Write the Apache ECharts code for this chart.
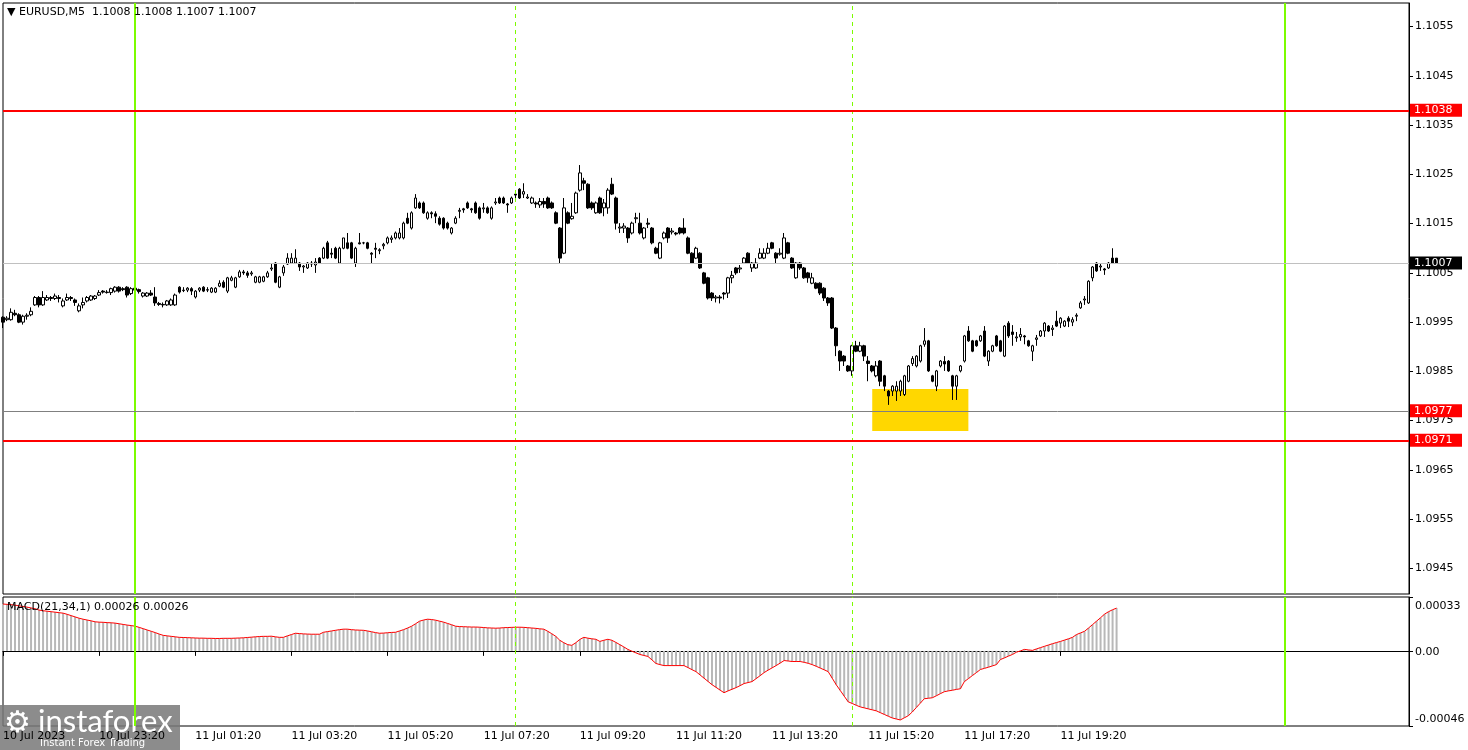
<!DOCTYPE html>
<html><head><meta charset="utf-8">
<script src="https://cdn.jsdelivr.net/npm/echarts@6/dist/echarts.min.js"></script>
<style>html,body{margin:0;padding:0;background:#fff}#c{width:1468px;height:750px}</style>
</head><body><div id="c"></div>
<script>
// ---------- DATA ----------
const headerText = 'EURUSD,M5  1.1008 1.1008 1.1007 1.1007';
const macdText = 'MACD(21,34,1) 0.00026 0.00026';
const firstBarTime = { day: 10, hour: 21, minute: 20 };   // first visible M5 bar
const totalSlots = 352;                                     // bars + empty right shift
const firstLabel = '10 Jul 2023';

const opens = [
1.09960,1.09955,1.09955,1.09968,1.09965,1.09950,1.09962,1.09965,1.09985,1.10000,
1.09985,1.09995,1.10000,1.09998,1.10000,1.09983,1.09995,1.10000,1.09995,1.09973,
1.09985,1.09993,1.09995,1.09998,1.10005,1.10013,1.10010,1.10010,1.10013,1.10021,
1.10018,1.10021,1.10008,1.10019,1.10016,1.10003,1.10003,1.10009,1.10001,1.09988,
1.09986,1.09985,1.09985,1.09985,1.10021,1.10015,1.10015,1.10018,1.10001,1.10015,
1.10021,1.10015,1.10011,1.10011,1.10023,1.10031,1.10013,1.10035,1.10021,1.10042,
1.10052,1.10050,1.10048,1.10031,1.10031,1.10033,1.10042,1.10058,1.10070,1.10021,
1.10050,1.10068,1.10070,1.10070,1.10070,1.10062,1.10060,1.10070,1.10066,1.10080,
1.10080,1.10111,1.10090,1.10100,1.10070,1.10100,1.10111,1.10111,1.10070,1.10111,
1.10111,1.10111,1.10090,1.10100,1.10095,1.10105,1.10111,1.10118,1.10121,1.10121,
1.10121,1.10161,1.10141,1.10182,1.10192,1.10192,1.10161,1.10172,1.10170,1.10161,
1.10161,1.10151,1.10131,1.10151,1.10175,1.10180,1.10192,1.10180,1.10192,1.10182,
1.10180,1.10182,1.10161,1.10192,1.10202,1.10202,1.10190,1.10192,1.10210,1.10220,
1.10210,1.10202,1.10192,1.10192,1.10188,1.10195,1.10202,1.10192,1.10172,1.10141,
1.10090,1.10172,1.10160,1.10172,1.10218,1.10237,1.10230,1.10192,1.10172,1.10202,
1.10182,1.10182,1.10230,1.10202,1.10141,1.10141,1.10141,1.10131,1.10160,1.10151,
1.10121,1.10151,1.10141,1.10100,1.10080,1.10121,1.10141,1.10133,1.10131,1.10141,
1.10141,1.10121,1.10090,1.10080,1.10090,1.10050,1.10040,1.10009,1.09999,1.10001,
1.10009,1.10009,1.10040,1.10060,1.10058,1.10070,1.10090,1.10060,1.10060,1.10080,
1.10080,1.10090,1.10111,1.10090,1.10088,1.10080,1.10111,1.10080,1.10040,1.10070,
1.10060,1.10050,1.10029,1.10029,1.10029,1.10019,1.09999,1.09999,1.09938,1.09891,
1.09881,1.09861,1.09851,1.09902,1.09891,1.09902,1.09871,1.09861,1.09841,1.09871,
1.09841,1.09810,1.09810,1.09810,1.09810,1.09803,1.09830,1.09866,1.09861,1.09871,
1.09905,1.09912,1.09841,1.09820,1.09861,1.09870,1.09871,1.09841,1.09820,1.09851,
1.09871,1.09932,1.09912,1.09912,1.09912,1.09932,1.09871,1.09891,1.09922,1.09912,
1.09881,1.09948,1.09930,1.09918,1.09920,1.09922,1.09912,1.09891,1.09915,1.09922,
1.09932,1.09942,1.09935,1.09952,1.09948,1.09942,1.09958,1.09950,1.09962,1.09979,
1.09995,1.09989,1.10040,1.10070,1.10062,1.10058,1.10060,1.10080,1.10080
];
const closes = [
1.09950,1.09958,1.09970,1.09965,1.09950,1.09962,1.09964,1.09972,1.10000,1.09985,
1.10000,1.10000,1.09998,1.10003,1.09998,1.09993,1.10000,1.09998,1.09990,1.09983,
1.09990,1.10000,1.10003,1.10003,1.10010,1.10011,1.10011,1.10018,1.10021,1.10013,
1.10016,1.10005,1.10018,1.10015,1.10012,1.10009,1.10009,1.10005,1.09989,1.09986,
1.09985,1.09993,1.09995,1.10005,1.10011,1.10014,1.10019,1.10013,1.10013,1.10019,
1.10013,1.10016,1.10019,1.10019,1.10029,1.10021,1.10040,1.10040,1.10040,1.10052,
1.10050,1.10045,1.10050,1.10042,1.10042,1.10042,1.10050,1.10060,1.10031,1.10042,
1.10062,1.10080,1.10080,1.10080,1.10062,1.10064,1.10070,1.10068,1.10072,1.10070,
1.10100,1.10080,1.10088,1.10080,1.10100,1.10121,1.10100,1.10080,1.10100,1.10109,
1.10111,1.10100,1.10088,1.10098,1.10097,1.10108,1.10121,1.10121,1.10131,1.10131,
1.10151,1.10151,1.10172,1.10202,1.10182,1.10172,1.10172,1.10170,1.10165,1.10149,
1.10141,1.10141,1.10141,1.10161,1.10177,1.10178,1.10182,1.10178,1.10172,1.10161,
1.10182,1.10172,1.10182,1.10194,1.10192,1.10192,1.10188,1.10202,1.10208,1.10202,
1.10215,1.10204,1.10202,1.10190,1.10195,1.10190,1.10182,1.10182,1.10151,1.10080,
1.10182,1.10151,1.10165,1.10212,1.10253,1.10232,1.10182,1.10182,1.10192,1.10172,
1.10192,1.10218,1.10210,1.10151,1.10143,1.10145,1.10121,1.10151,1.10162,1.10131,
1.10141,1.10149,1.10111,1.10090,1.10111,1.10131,1.10121,1.10135,1.10129,1.10131,
1.10131,1.10090,1.10070,1.10100,1.10060,1.10029,1.09999,1.09999,1.10001,1.09999,
1.10007,1.10040,1.10045,1.10050,1.10060,1.10080,1.10070,1.10070,1.10070,1.10090,
1.10090,1.10100,1.10100,1.10080,1.10090,1.10121,1.10090,1.10060,1.10070,1.10060,
1.10040,1.10040,1.10040,1.10019,1.10009,1.09999,1.09989,1.09938,1.09902,1.09871,
1.09871,1.09851,1.09902,1.09891,1.09902,1.09881,1.09866,1.09851,1.09861,1.09830,
1.09820,1.09800,1.09820,1.09820,1.09830,1.09841,1.09861,1.09876,1.09881,1.09902,
1.09912,1.09851,1.09830,1.09851,1.09871,1.09865,1.09851,1.09820,1.09841,1.09861,
1.09922,1.09912,1.09891,1.09902,1.09922,1.09881,1.09891,1.09902,1.09902,1.09891,
1.09942,1.09922,1.09925,1.09920,1.09925,1.09920,1.09902,1.09902,1.09918,1.09932,
1.09948,1.09932,1.09938,1.09942,1.09958,1.09952,1.09952,1.09955,1.09964,1.09989,
1.09997,1.10033,1.10062,1.10054,1.10064,1.10056,1.10070,1.10070,1.10070
];
const highs = [
1.09962,1.09962,1.09978,1.09975,1.09968,1.09965,1.09968,1.09980,1.10003,1.10003,
1.10013,1.10005,1.10003,1.10008,1.10005,1.09998,1.10008,1.10003,1.09998,1.09988,
1.10000,1.10003,1.10005,1.10005,1.10015,1.10015,1.10015,1.10020,1.10023,1.10023,
1.10021,1.10023,1.10021,1.10021,1.10018,1.10011,1.10011,1.10015,1.10021,1.09991,
1.09990,1.09995,1.09998,1.10008,1.10023,1.10021,1.10021,1.10021,1.10015,1.10021,
1.10023,1.10021,1.10021,1.10021,1.10035,1.10035,1.10042,1.10044,1.10042,1.10056,
1.10056,1.10054,1.10054,1.10044,1.10044,1.10044,1.10054,1.10070,1.10072,1.10044,
1.10066,1.10090,1.10090,1.10098,1.10072,1.10066,1.10072,1.10074,1.10080,1.10082,
1.10103,1.10115,1.10100,1.10103,1.10103,1.10121,1.10131,1.10113,1.10103,1.10131,
1.10113,1.10113,1.10092,1.10111,1.10100,1.10111,1.10124,1.10126,1.10134,1.10141,
1.10154,1.10172,1.10175,1.10210,1.10195,1.10195,1.10175,1.10175,1.10175,1.10165,
1.10163,1.10154,1.10143,1.10165,1.10182,1.10182,1.10195,1.10182,1.10195,1.10185,
1.10192,1.10185,1.10185,1.10202,1.10205,1.10205,1.10192,1.10205,1.10212,1.10222,
1.10232,1.10210,1.10205,1.10195,1.10202,1.10202,1.10205,1.10195,1.10175,1.10143,
1.10202,1.10175,1.10192,1.10215,1.10269,1.10243,1.10232,1.10195,1.10195,1.10205,
1.10200,1.10222,1.10243,1.10205,1.10151,1.10151,1.10143,1.10154,1.10172,1.10172,
1.10143,1.10161,1.10143,1.10103,1.10113,1.10134,1.10143,1.10141,1.10133,1.10143,
1.10161,1.10124,1.10092,1.10103,1.10092,1.10052,1.10042,1.10011,1.10005,1.10005,
1.10011,1.10042,1.10054,1.10062,1.10066,1.10082,1.10092,1.10072,1.10080,1.10100,
1.10100,1.10111,1.10113,1.10092,1.10100,1.10131,1.10113,1.10082,1.10072,1.10072,
1.10062,1.10052,1.10050,1.10031,1.10031,1.10021,1.10001,1.10001,1.09940,1.09893,
1.09883,1.09863,1.09904,1.09912,1.09910,1.09904,1.09881,1.09863,1.09871,1.09873,
1.09843,1.09812,1.09822,1.09830,1.09833,1.09843,1.09863,1.09881,1.09883,1.09904,
1.09938,1.09914,1.09843,1.09853,1.09873,1.09881,1.09873,1.09843,1.09843,1.09863,
1.09924,1.09942,1.09914,1.09914,1.09924,1.09942,1.09893,1.09904,1.09924,1.09914,
1.09944,1.09952,1.09944,1.09930,1.09938,1.09924,1.09914,1.09904,1.09924,1.09934,
1.09950,1.09944,1.09944,1.09973,1.09960,1.09954,1.09962,1.09960,1.09968,1.09993,
1.10003,1.10035,1.10064,1.10072,1.10070,1.10060,1.10072,1.10100,1.10080
];
const lows = [
1.09938,1.09952,1.09953,1.09962,1.09948,1.09945,1.09955,1.09962,1.09983,1.09980,
1.09983,1.09993,1.09993,1.09995,1.09990,1.09980,1.09993,1.09993,1.09983,1.09970,
1.09978,1.09990,1.09993,1.09995,1.10003,1.10008,1.10008,1.10005,1.10010,1.10010,
1.10013,1.10000,1.10005,1.10013,1.10008,1.10000,1.10001,1.10003,1.09983,1.09983,
1.09980,1.09983,1.09983,1.09983,1.10008,1.10011,1.10011,1.10005,1.09998,1.10011,
1.10011,1.10011,1.10009,1.10009,1.10021,1.10019,1.10009,1.10033,1.10019,1.10040,
1.10046,1.10040,1.10044,1.10029,1.10029,1.10031,1.10040,1.10054,1.10029,1.10019,
1.10044,1.10066,1.10068,1.10068,1.10054,1.10050,1.10058,1.10062,1.10050,1.10068,
1.10078,1.10078,1.10080,1.10078,1.10068,1.10098,1.10098,1.10078,1.10062,1.10108,
1.10108,1.10098,1.10070,1.10080,1.10088,1.10098,1.10108,1.10111,1.10118,1.10118,
1.10118,1.10149,1.10138,1.10180,1.10180,1.10170,1.10158,1.10161,1.10151,1.10146,
1.10138,1.10138,1.10128,1.10149,1.10161,1.10172,1.10180,1.10172,1.10170,1.10158,
1.10172,1.10170,1.10158,1.10188,1.10190,1.10190,1.10172,1.10190,1.10202,1.10200,
1.10202,1.10200,1.10190,1.10182,1.10182,1.10182,1.10180,1.10180,1.10149,1.10070,
1.10088,1.10149,1.10158,1.10170,1.10215,1.10218,1.10180,1.10178,1.10170,1.10170,
1.10165,1.10170,1.10208,1.10138,1.10131,1.10131,1.10111,1.10128,1.10151,1.10128,
1.10118,1.10141,1.10108,1.10088,1.10078,1.10118,1.10111,1.10128,1.10126,1.10128,
1.10128,1.10088,1.10068,1.10078,1.10058,1.10027,1.09996,1.09993,1.09990,1.09988,
1.09996,1.09999,1.10029,1.10046,1.10050,1.10068,1.10068,1.10052,1.10058,1.10078,
1.10078,1.10088,1.10098,1.10070,1.10085,1.10078,1.10088,1.10058,1.10038,1.10056,
1.10038,1.10030,1.10027,1.10017,1.10005,1.09993,1.09983,1.09936,1.09881,1.09851,
1.09861,1.09849,1.09841,1.09889,1.09889,1.09871,1.09830,1.09848,1.09838,1.09820,
1.09810,1.09782,1.09800,1.09790,1.09800,1.09800,1.09828,1.09861,1.09858,1.09868,
1.09900,1.09849,1.09828,1.09810,1.09858,1.09851,1.09849,1.09792,1.09792,1.09848,
1.09868,1.09910,1.09889,1.09900,1.09910,1.09879,1.09861,1.09889,1.09900,1.09889,
1.09879,1.09918,1.09902,1.09910,1.09912,1.09905,1.09900,1.09871,1.09902,1.09920,
1.09920,1.09930,1.09922,1.09940,1.09938,1.09940,1.09940,1.09942,1.09952,1.09977,
1.09985,1.09987,1.10033,1.10052,1.10054,1.10046,1.10058,1.10068,1.10070
];
// MACD(21,34,1) main line values per bar (histogram and signal coincide)
const macd = [
0.000287,0.000285,0.000283,0.000280,0.000276,0.000272,0.000268,0.000263,0.000258,0.000250,
0.000246,0.000243,0.000240,0.000237,0.000234,0.000231,0.000224,0.000216,0.000208,0.000200,
0.000194,0.000189,0.000184,0.000178,0.000176,0.000175,0.000173,0.000172,0.000170,0.000166,
0.000162,0.000158,0.000155,0.000151,0.000144,0.000136,0.000128,0.000120,0.000112,0.000103,
0.000095,0.000092,0.000089,0.000086,0.000083,0.000082,0.000081,0.000080,0.000079,0.000078,
0.000078,0.000077,0.000077,0.000076,0.000076,0.000077,0.000077,0.000077,0.000078,0.000079,
0.000080,0.000082,0.000084,0.000086,0.000088,0.000089,0.000089,0.000090,0.000086,0.000083,
0.000083,0.000092,0.000100,0.000108,0.000106,0.000104,0.000103,0.000102,0.000102,0.000102,
0.000114,0.000118,0.000122,0.000126,0.000130,0.000133,0.000133,0.000130,0.000128,0.000127,
0.000126,0.000122,0.000117,0.000112,0.000108,0.000109,0.000111,0.000113,0.000114,0.000122,
0.000130,0.000140,0.000151,0.000166,0.000182,0.000189,0.000194,0.000192,0.000188,0.000182,
0.000176,0.000168,0.000160,0.000151,0.000149,0.000148,0.000147,0.000146,0.000146,0.000145,
0.000143,0.000141,0.000140,0.000139,0.000140,0.000142,0.000143,0.000144,0.000145,0.000145,
0.000144,0.000142,0.000140,0.000138,0.000135,0.000133,0.000120,0.000105,0.000089,0.000065,
0.000050,0.000038,0.000034,0.000050,0.000070,0.000083,0.000078,0.000074,0.000071,0.000058,
0.000065,0.000071,0.000065,0.000052,0.000038,0.000024,0.000009,-0.000002,-0.000012,-0.000022,
-0.000028,-0.000034,-0.000055,-0.000077,-0.000084,-0.000090,-0.000090,-0.000090,-0.000090,-0.000090,
-0.000090,-0.000102,-0.000115,-0.000127,-0.000147,-0.000167,-0.000187,-0.000207,-0.000223,-0.000240,
-0.000256,-0.000245,-0.000235,-0.000225,-0.000213,-0.000200,-0.000194,-0.000188,-0.000170,-0.000152,
-0.000133,-0.000118,-0.000104,-0.000090,-0.000075,-0.000059,-0.000062,-0.000065,-0.000065,-0.000065,
-0.000070,-0.000076,-0.000084,-0.000094,-0.000105,-0.000116,-0.000127,-0.000167,-0.000207,-0.000242,
-0.000277,-0.000312,-0.000322,-0.000333,-0.000343,-0.000349,-0.000355,-0.000361,-0.000367,-0.000378,
-0.000389,-0.000400,-0.000411,-0.000417,-0.000423,-0.000410,-0.000397,-0.000374,-0.000347,-0.000320,
-0.000293,-0.000290,-0.000287,-0.000275,-0.000262,-0.000250,-0.000245,-0.000241,-0.000236,-0.000232,
-0.000188,-0.000170,-0.000151,-0.000133,-0.000114,-0.000107,-0.000100,-0.000092,-0.000084,-0.000053,
-0.000043,-0.000032,-0.000022,-0.000008,0.000000,0.000009,0.000006,0.000003,0.000012,0.000020,
0.000028,0.000036,0.000044,0.000051,0.000058,0.000066,0.000074,0.000083,0.000100,0.000110,
0.000120,0.000140,0.000161,0.000182,0.000203,0.000225,0.000240,0.000252,0.000262
];
const priceTicks = [1.0945,1.0955,1.0965,1.0975,1.0985,1.0995,1.1005,1.1015,1.1025,1.1035,1.1045,1.1055];
const macdTicks = [-0.00046, 0, 0.00033];
const macdTickLabels = ['-0.00046', '0.00', '0.00033'];
const redLevels = [1.1038, 1.0971];             // red horizontal levels
const markedLevel = 1.0977;                     // thin level with red tag
const bidPrice = 1.1007;
const dayStartBars = [33, 320];                 // green day separators
const sessionBars = [128, 212];                 // dashed separators
const zoneBars = [217, 241];                    // yellow zone (bar index)
const zonePrices = [1.09814, 1.09729];

// ---------- BUILD ----------
function pad(n){ return (n < 10 ? '0' : '') + n; }
const categories = [];
for (let k = 0; k < totalSlots; k++) {
  const t = firstBarTime.hour * 60 + firstBarTime.minute + 5 * k;
  const d = firstBarTime.day + Math.floor(t / 1440);
  const m = t % 1440;
  categories.push(d + ' Jul ' + pad(Math.floor(m / 60)) + ':' + pad(m % 60));
}
const lastBar = opens.length - 1;
const candleData = opens.map((o, i) => [o, closes[i], lows[i], highs[i]]);

const FONT = 'DejaVu Sans';
const chart = echarts.init(document.getElementById('c'));

function tagLabel(bg) {
  return { show: true, position: 'end', distance: 1, formatter: p => Number(p.value).toFixed(4),
    backgroundColor: bg, color: '#fff', fontFamily: FONT, fontSize: 11, lineHeight: 12,
    padding: [1, 5, 0, 4], width: 43, align: 'left' };
}
function vLines() {
  const out = [];
  dayStartBars.forEach(b => out.push({ xAxis: b, label: { show: false }, lineStyle: { color: '#7cfc00', width: 2, type: 'solid' } }));
  sessionBars.forEach(b => out.push({ xAxis: b, label: { show: false }, lineStyle: { color: '#7cfc00', width: 1, type: [4, 4] } }));
  return out;
}
const hLines = [];
hLines.push({ yAxis: markedLevel, lineStyle: { color: '#808080', width: 1, type: 'solid' }, label: tagLabel('#ff0000') });
hLines.push({ yAxis: bidPrice, lineStyle: { color: '#c0c0c0', width: 1, type: 'solid' }, label: tagLabel('#000000') });
redLevels.forEach(v => hLines.push({ yAxis: v, lineStyle: { color: '#ff0000', width: 2, type: 'solid' }, label: tagLabel('#ff0000') }));

const option = {
  animation: false,
  backgroundColor: '#fff',
  textStyle: { fontFamily: FONT },
  grid: [
    { left: 3, top: 3, width: 1406, height: 591, show: true, borderColor: '#000', borderWidth: 1, backgroundColor: '#fff' },
    { left: 3, top: 597, width: 1406, height: 129, show: true, borderColor: '#000', borderWidth: 1, backgroundColor: '#fff' }
  ],
  xAxis: [
    { type: 'category', gridIndex: 0, data: categories, boundaryGap: false,
      axisLine: { show: false }, axisTick: { show: false }, axisLabel: { show: false }, splitLine: { show: false } },
    { type: 'category', gridIndex: 1, data: categories, boundaryGap: false,
      axisLine: { show: true, lineStyle: { color: '#000' } },
      axisTick: { show: true, length: 5, lineStyle: { color: '#000' }, interval: (i) => i % 24 === 0 && i <= lastBar },
      axisLabel: { show: true, interval: (i) => i % 24 === 0 && i <= lastBar, align: 'left', margin: 5,
        color: '#000', fontSize: 11, fontFamily: FONT,
        formatter: (v, i) => i === 0 ? firstLabel : v },
      splitLine: { show: false } }
  ],
  yAxis: [
    { type: 'value', gridIndex: 0, position: 'right', min: 1.09398, max: 1.10598,
      axisLine: { show: true, lineStyle: { color: '#000' } },
      axisTick: { show: true, length: 4, lineStyle: { color: '#000' }, customValues: priceTicks },
      axisLabel: { show: true, customValues: priceTicks, formatter: v => v.toFixed(4), color: '#000',
        fontSize: 11, fontFamily: FONT, margin: 6, padding: [6, 0, 0, 0] },
      splitLine: { show: false } },
    { type: 'value', gridIndex: 1, position: 'right', min: -0.00046, max: 0.00033,
      axisLine: { show: true, lineStyle: { color: '#000' } },
      axisTick: { show: true, length: 4, lineStyle: { color: '#000' }, customValues: macdTicks },
      axisLabel: { show: true, customValues: macdTicks,
        formatter: v => {
          const k = macdTicks.findIndex(t => Math.abs(t - v) < 1e-9);
          return '{' + ['b', 'z', 't'][k] + '|' + macdTickLabels[k] + '}';
        },
        rich: {
          t: { fontSize: 11, fontFamily: FONT, color: '#000', padding: [18, 0, 0, 0] },
          z: { fontSize: 11, fontFamily: FONT, color: '#000', padding: [3, 0, 0, 0] },
          b: { fontSize: 11, fontFamily: FONT, color: '#000', padding: [0, 0, 14, 0] }
        },
        color: '#000', fontSize: 11, fontFamily: FONT, margin: 6 },
      splitLine: { show: false } }
  ],
  series: [
    { type: 'line', xAxisIndex: 0, yAxisIndex: 0, data: [], z: 1, silent: true,
      markArea: { silent: true, itemStyle: { color: '#ffd700', opacity: 1 },
        data: [[{ xAxis: zoneBars[0], yAxis: zonePrices[0] }, { xAxis: zoneBars[1], yAxis: zonePrices[1] }]] },
      markLine: { silent: true, symbol: 'none', precision: 5, data: vLines().concat(hLines) } },
    { type: 'candlestick', xAxisIndex: 0, yAxisIndex: 0, data: candleData, z: 3, barWidth: 3,
      itemStyle: { color: '#ffffff', color0: '#000000', borderColor: '#000000', borderColor0: '#000000', borderWidth: 1 } },
    { type: 'bar', xAxisIndex: 1, yAxisIndex: 1, data: macd, barWidth: 2, z: 2,
      itemStyle: { color: '#b8b8b8' },
      markLine: { silent: true, symbol: 'none', label: { show: false }, data: vLines() } },
    { type: 'line', xAxisIndex: 1, yAxisIndex: 1, data: macd, showSymbol: false, z: 4,
      lineStyle: { color: '#ff0000', width: 1 }, itemStyle: { color: '#ff0000' } }
  ],
  graphic: [
    { type: 'text', left: 7, top: 7, z: 100, style: { text: '▼ ' + headerText, fill: '#000', font: '11px "DejaVu Sans"' } },
    { type: 'text', left: 7, top: 602, z: 100, style: { text: macdText, fill: '#000', font: '11px "DejaVu Sans"' } },
    { type: 'group', left: 0, top: 705, z: 200, children: [
      { type: 'rect', shape: { x: 0, y: 0, width: 180, height: 45 }, style: { fill: 'rgba(120,120,120,0.85)' } },
      { type: 'text', x: 4, y: 4, style: { text: '⚙', fill: '#fff', font: 'bold 30px "DejaVu Sans"' } },
      { type: 'text', x: 38, y: 1, style: { text: 'instaforex', fill: '#fff', font: '31px Lato' } },
      { type: 'text', x: 40, y: 33, style: { text: 'Instant Forex Trading', fill: '#fff', font: '10px "DejaVu Sans"' } }
    ] }
  ]
};
chart.setOption(option);
</script>
</body></html>
